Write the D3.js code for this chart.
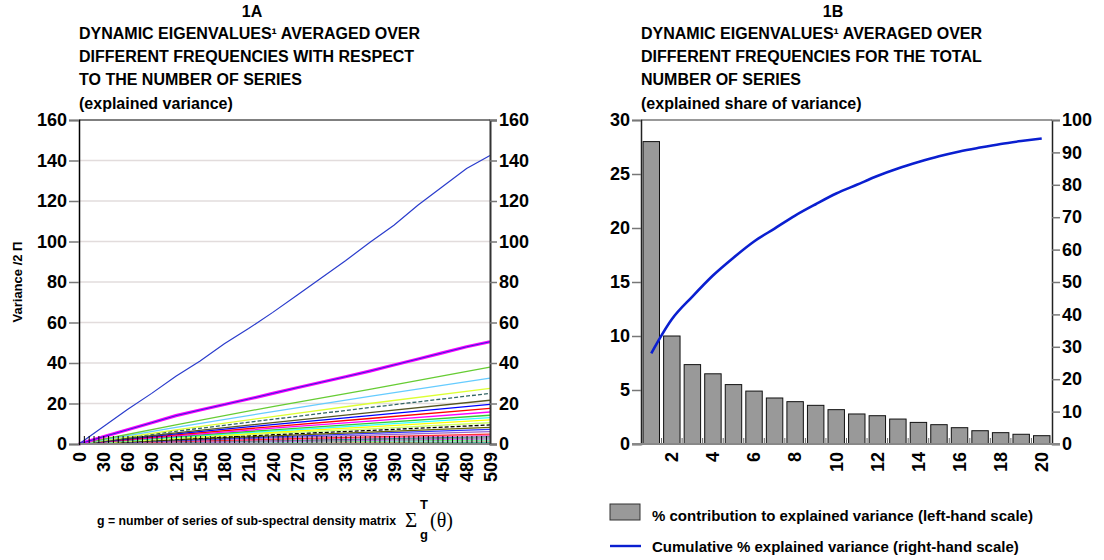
<!DOCTYPE html>
<html>
<head>
<meta charset="utf-8">
<script src="https://cdnjs.cloudflare.com/ajax/libs/d3/7.8.5/d3.min.js"></script>
<style>
  body { margin: 0; background: #fff; }
  text { font-family: "Liberation Sans", Arial, sans-serif; font-weight: bold; fill: #000; }
  .serif { font-family: "Liberation Serif", "Times New Roman", serif; font-weight: normal; }
</style>
</head>
<body>
<script>
// ---- chart 1A data ----
var gFine = [0, 30, 60, 90, 120, 150, 180, 210, 240, 270, 300, 330, 360, 390, 420, 450, 480, 509];
var firstEigen = [0, 8.5, 17, 25, 33.5, 41, 49.5, 57, 65, 73.5, 82, 90.5, 99.5, 108, 118, 127, 136, 142.5];
var secondEigen = [0, 3.6, 7, 10.5, 14, 16.8, 19.5, 22.2, 25, 27.8, 30.5, 33.2, 36, 39, 42, 45, 48, 50.5];

var gCoarse = [0, 120, 240, 360, 509];
var lowerEigen = [
  [0, 9.5, 18.5, 27, 38],
  [0, 8.2, 16, 23.5, 32.5],
  [0, 7, 13.5, 20, 27.5],
  [0, 6.3, 12.2, 18, 25],
  [0, 5.5, 10.6, 15.5, 21.6],
  [0, 5, 9.6, 14, 19.6],
  [0, 4.5, 8.6, 12.6, 17.6],
  [0, 4, 7.8, 11.3, 15.8],
  [0, 3.6, 7, 10.2, 14.2],
  [0, 3.3, 6.4, 9.3, 13],
  [0, 3, 5.8, 8.5, 11.9],
  [0, 2.7, 5.2, 7.5, 10.5],
  [0, 2.4, 4.6, 6.7, 9.4],
  [0, 2.1, 4, 5.9, 8.2],
  [0, 1.8, 3.5, 5.2, 7.2],
  [0, 1.6, 3, 4.4, 6.1],
  [0, 1.3, 2.4, 3.5, 4.9],
  [0, 1.1, 2.1, 3, 4.2],
  [0, 0.9, 1.8, 2.6, 3.6],
  [0, 0.8, 1.5, 2.2, 3.0],
  [0, 0.6, 1.2, 1.8, 2.5],
  [0, 0.5, 1, 1.4, 2.0],
  [0, 0.4, 0.8, 1.2, 1.6],
  [0, 0.3, 0.6, 0.9, 1.2],
  [0, 0.2, 0.4, 0.6, 0.8]
];
var lowerColors = ["#66cc33", "#66ccff", "#ddff33", "#336666", "#555522", "#0000ff", "#ff0000", "#ff00ff",
  "#33cc33", "#33ffff", "#ffff00", "#ccff66", "#000000", "#666600", "#3333ff", "#9966cc", "#ff3333",
  "#ff66cc", "#339999", "#999999", "#cc66ff", "#66ff66", "#99ccff", "#ff9933", "#00cccc"];
var lowerDashed = [3, 12];  // indexes drawn dashed

var xTickLabels1 = [0, 30, 60, 90, 120, 150, 180, 210, 240, 270, 300, 330, 360, 390, 420, 450, 480, 509];
var yTicks1 = [0, 20, 40, 60, 80, 100, 120, 140, 160];

// ---- chart 1B data ----
var components = d3.range(1, 21);
var contribution = [28.0, 10.0, 7.35, 6.5, 5.5, 4.9, 4.26, 3.92, 3.58, 3.18, 2.78, 2.62, 2.31, 2.0, 1.79, 1.51, 1.23, 1.05, 0.9, 0.77];
var cumulative = [28, 38.5, 45.5, 52, 57.5, 62.5, 66.5, 70.5, 74, 77.3, 80, 82.7, 85, 87, 88.8, 90.3, 91.5, 92.6, 93.5, 94.3];
var xTickLabels2 = [2, 4, 6, 8, 10, 12, 14, 16, 18, 20];
var yTicksL2 = [0, 5, 10, 15, 20, 25, 30];
var yTicksR2 = [0, 10, 20, 30, 40, 50, 60, 70, 80, 90, 100];

var svg = d3.select("body").append("svg").attr("width", 1104).attr("height", 560);

// ================= 1A =================
var plotTop = 120, plotBottom = 444;
var x1 = d3.scaleLinear().domain([0, 509]).range([79, 490]);
var y1 = d3.scaleLinear().domain([0, 160]).range([plotBottom, plotTop]);

var t1 = ["DYNAMIC EIGENVALUES\u00b9 AVERAGED OVER", "DIFFERENT FREQUENCIES WITH RESPECT", "TO THE NUMBER OF SERIES", "(explained variance)"];
svg.append("text").attr("x", 252).attr("y", 17).attr("text-anchor", "middle").style("font-size", "16px").text("1A");
t1.forEach(function(s, i) {
  svg.append("text").attr("x", 79).attr("y", 39 + i * 23.2).style("font-size", "16px").text(s);
});

// gridlines
svg.append("g").selectAll("line").data(yTicks1.slice(1, -1)).enter().append("line")
  .attr("x1", 79).attr("x2", 490).attr("y1", y1).attr("y2", y1)
  .attr("stroke", "#e2dcdc").attr("stroke-width", 1.5);

var line1 = d3.line().x(function(d) { return x1(d[0]); }).y(function(d) { return y1(d[1]); });

var lg = svg.append("g");
for (var i = lowerEigen.length - 1; i >= 0; i--) {
  var pts = gCoarse.map(function(g, j) { return [g, lowerEigen[i][j]]; });
  lg.append("path").attr("d", line1(pts)).attr("fill", "none")
    .attr("stroke", lowerColors[i]).attr("stroke-width", 1.3)
    .attr("stroke-dasharray", lowerDashed.indexOf(i) >= 0 ? "4,2" : null);
}
var p2 = gFine.map(function(g, j) { return [g, secondEigen[j]]; });
lg.append("path").attr("d", line1(p2)).attr("fill", "none").attr("stroke", "#ff00ff").attr("stroke-width", 3.2);
lg.append("path").attr("d", line1(p2)).attr("fill", "none").attr("stroke", "#3322dd").attr("stroke-width", 1);
var p1 = gFine.map(function(g, j) { return [g, firstEigen[j]]; });
lg.append("path").attr("d", line1(p1)).attr("fill", "none").attr("stroke", "#2a3ccc").attr("stroke-width", 1.2);

// inner tick marks along the bottom, on top of the lines
svg.append("g").selectAll("line").data(d3.range(0, 510, 6)).enter().append("line")
  .attr("x1", function(d) { return x1(d) + 0.5; }).attr("x2", function(d) { return x1(d) + 0.5; })
  .attr("y1", plotBottom).attr("y2", plotBottom - 8).attr("stroke", "#000").attr("stroke-width", 1);

// frame
svg.append("line").attr("x1", 79).attr("x2", 490).attr("y1", plotTop).attr("y2", plotTop).attr("stroke", "#000");
svg.append("line").attr("x1", 79).attr("x2", 490).attr("y1", plotBottom).attr("y2", plotBottom).attr("stroke", "#888").attr("stroke-width", 2);

var axL1 = svg.append("g").attr("transform", "translate(79,0)")
  .call(d3.axisLeft(y1).tickValues(yTicks1).tickSize(10).tickPadding(2));
var axR1 = svg.append("g").attr("transform", "translate(490,0)")
  .call(d3.axisRight(y1).tickValues(yTicks1).tickSize(7).tickPadding(2));
[axL1, axR1].forEach(function(a) {
  a.select(".domain").attr("stroke", "#000").attr("stroke-width", 1.5);
  a.selectAll(".tick line").attr("stroke", "#777").attr("stroke-width", 1.5);
  a.selectAll("text").style("font-size", "18px").attr("font-family", null);
});
axR1.select(".domain").attr("stroke", "#333").attr("stroke-width", 2);

var axB1 = svg.append("g").attr("transform", "translate(0," + plotBottom + ")")
  .call(d3.axisBottom(x1).tickValues(xTickLabels1).tickSize(0).tickPadding(0));
axB1.select(".domain").remove();
axB1.selectAll("text").style("font-size", "18px").attr("font-family", null)
  .attr("text-anchor", "end").attr("dy", "0.35em")
  .attr("transform", "translate(0,8) rotate(-90)").attr("y", 0).attr("x", 0);

svg.append("text").attr("transform", "translate(22,282) rotate(-90)").attr("text-anchor", "middle")
  .style("font-size", "13px").text("Variance /2 \u03a0");

// x-axis title with sigma notation
svg.append("text").attr("x", 97).attr("y", 525).style("font-size", "12.3px")
  .text("g = number of series of sub-spectral density matrix");
svg.append("text").attr("class", "serif").attr("x", 405).attr("y", 527).style("font-size", "21px").text("\u03a3");
svg.append("text").attr("x", 420).attr("y", 509).style("font-size", "13px").text("T");
svg.append("text").attr("x", 420).attr("y", 539).style("font-size", "13px").text("g");
svg.append("text").attr("class", "serif").attr("x", 430).attr("y", 527).style("font-size", "20px").text("(\u03b8)");

// ================= 1B =================
var x2 = d3.scaleBand().domain(components).range([641, 1052]).paddingInner(0.2).paddingOuter(0.1);
var y2 = d3.scaleLinear().domain([0, 30]).range([plotBottom, plotTop]);
var y2r = d3.scaleLinear().domain([0, 100]).range([plotBottom, plotTop]);

var t2 = ["DYNAMIC EIGENVALUES\u00b9 AVERAGED OVER", "DIFFERENT FREQUENCIES FOR THE TOTAL", "NUMBER OF SERIES", "(explained share of variance)"];
svg.append("text").attr("x", 833).attr("y", 17).attr("text-anchor", "middle").style("font-size", "16px").text("1B");
t2.forEach(function(s, i) {
  svg.append("text").attr("x", 641).attr("y", 39 + i * 23.2).style("font-size", "16px").text(s);
});

svg.append("line").attr("x1", 641).attr("x2", 1052).attr("y1", plotTop).attr("y2", plotTop).attr("stroke", "#777").attr("stroke-width", 1.5);

svg.append("g").selectAll("rect").data(components).enter().append("rect")
  .attr("x", function(d) { return x2(d); }).attr("width", x2.bandwidth())
  .attr("y", function(d, i) { return y2(contribution[i]); })
  .attr("height", function(d, i) { return plotBottom - y2(contribution[i]); })
  .attr("fill", "#999999").attr("stroke", "#111").attr("stroke-width", 1);

// small band separators at the base
svg.append("g").selectAll("line").data(d3.range(1, 20)).enter().append("line")
  .attr("x1", function(d) { return 641 + d * (411 / 20); }).attr("x2", function(d) { return 641 + d * (411 / 20); })
  .attr("y1", plotBottom).attr("y2", plotBottom - 6).attr("stroke", "#666").attr("stroke-width", 1);

svg.append("path")
  .attr("d", d3.line().x(function(d) { return x2(d) + x2.bandwidth() / 2; })
    .y(function(d, i) { return y2r(cumulative[i]); }).curve(d3.curveMonotoneX)(components))
  .attr("fill", "none").attr("stroke", "#0a1fd0").attr("stroke-width", 2.6);

var axL2 = svg.append("g").attr("transform", "translate(641,0)")
  .call(d3.axisLeft(y2).tickValues(yTicksL2).tickSize(9).tickPadding(2));
var axR2 = svg.append("g").attr("transform", "translate(1052,0)")
  .call(d3.axisRight(y2r).tickValues(yTicksR2).tickSize(8).tickPadding(2));
[axL2, axR2].forEach(function(a) {
  a.select(".domain").attr("stroke", "#222").attr("stroke-width", 1.5);
  a.selectAll(".tick line").attr("stroke", "#777").attr("stroke-width", 1.5);
  a.selectAll("text").style("font-size", "18px").attr("font-family", null);
});
svg.append("line").attr("x1", 632).attr("x2", 1060).attr("y1", plotBottom).attr("y2", plotBottom).attr("stroke", "#888").attr("stroke-width", 2);

var axB2 = svg.append("g").attr("transform", "translate(0," + plotBottom + ")")
  .call(d3.axisBottom(x2).tickValues(xTickLabels2).tickSize(0).tickPadding(0));
axB2.select(".domain").remove();
axB2.selectAll("text").style("font-size", "18px").attr("font-family", null)
  .attr("text-anchor", "end").attr("dy", "0.35em")
  .attr("transform", "translate(0,8) rotate(-90)").attr("y", 0).attr("x", 0);

// legend
svg.append("rect").attr("x", 610).attr("y", 504).attr("width", 30).attr("height", 16)
  .attr("fill", "#999999").attr("stroke", "#333").attr("stroke-width", 1);
svg.append("text").attr("x", 652).attr("y", 521).style("font-size", "15px")
  .text("% contribution to explained variance (left-hand scale)");
svg.append("line").attr("x1", 610).attr("x2", 641).attr("y1", 546).attr("y2", 546)
  .attr("stroke", "#0a1fd0").attr("stroke-width", 2.4);
svg.append("text").attr("x", 652).attr("y", 552).style("font-size", "15px")
  .text("Cumulative % explained variance (right-hand scale)");
</script>
</body>
</html>
